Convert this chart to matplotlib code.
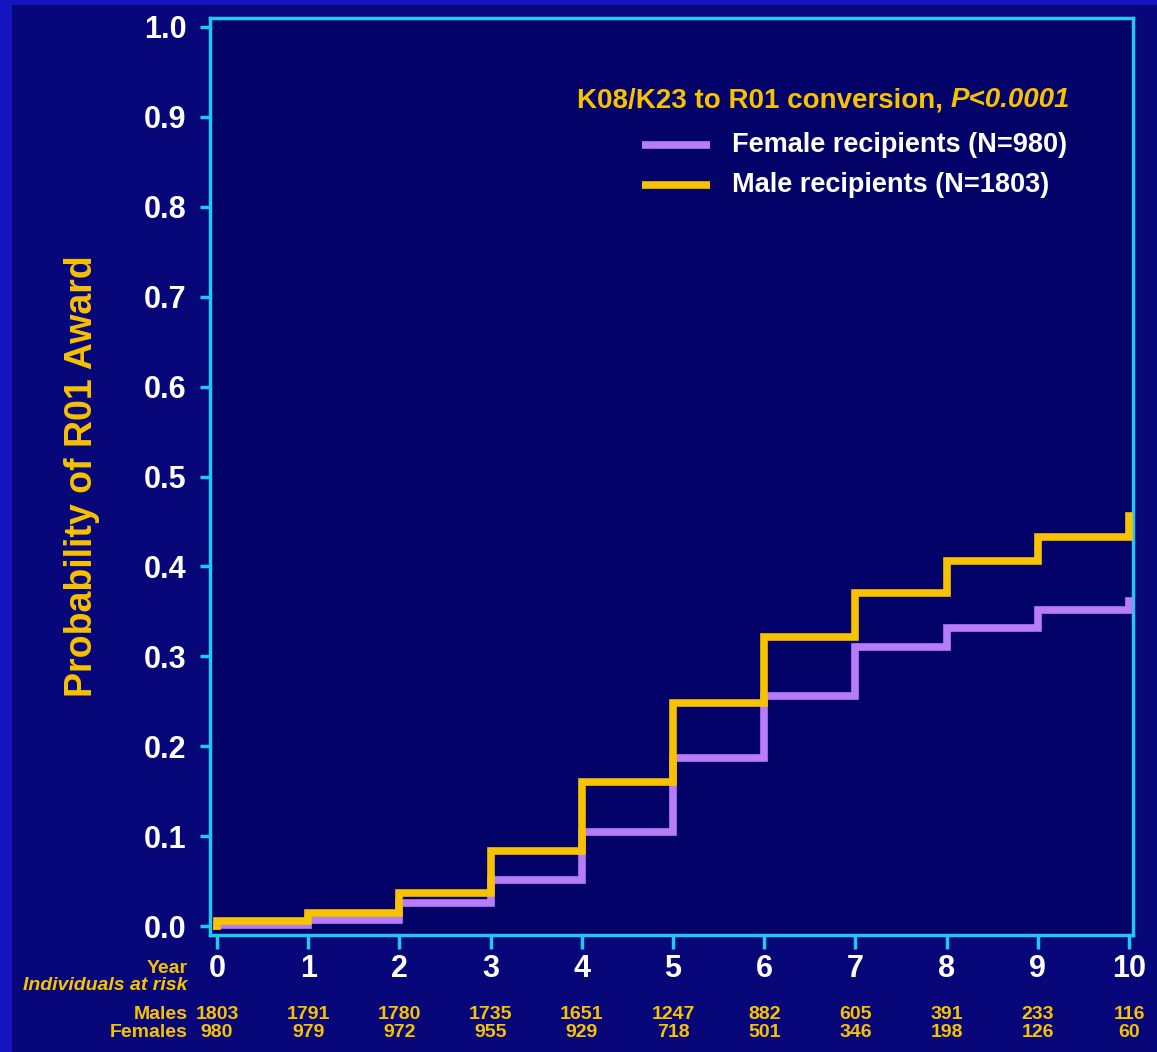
import matplotlib
matplotlib.use("Agg")
import matplotlib.pyplot as plt
import matplotlib.transforms as mtransforms
from matplotlib.patches import Rectangle

# data
years = [0, 1, 2, 3, 4, 5, 6, 7, 8, 9, 10]
male_prob = [0.006, 0.014, 0.037, 0.083, 0.160, 0.248, 0.321, 0.370, 0.406, 0.433, 0.456]
female_prob = [0.001, 0.007, 0.026, 0.051, 0.105, 0.187, 0.256, 0.310, 0.331, 0.351, 0.362]
males_at_risk = [1803, 1791, 1780, 1735, 1651, 1247, 882, 605, 391, 233, 116]
females_at_risk = [980, 979, 972, 955, 929, 718, 501, 346, 198, 126, 60]
yticks = [0.0, 0.1, 0.2, 0.3, 0.4, 0.5, 0.6, 0.7, 0.8, 0.9, 1.0]
series_names = ["Female recipients (N=980)", "Male recipients (N=1803)"]

NAVY = "#020268"
BG = "#07077a"
EDGE = "#1414c0"
CYAN = "#22c8ee"
GOLD = "#f7c200"
PURPLE = "#b77cf7"

plt.rcParams["font.family"] = ["Liberation Sans", "DejaVu Sans"]
plt.rcParams["font.weight"] = "bold"

fig = plt.figure(figsize=(11.57, 10.52), dpi=100)
fig.patch.set_facecolor(EDGE)
fig.patches.append(Rectangle((0.010, 0.0), 0.990, 0.995, transform=fig.transFigure,
                             facecolor=BG, edgecolor="none", zorder=-1))

ax = fig.add_axes([0.1815, 0.1112, 0.7978, 0.8717])
ax.set_facecolor(NAVY)

# step curves (start at 0, jump at each year)
ax.step([0] + years, [0] + female_prob, where="post", color=PURPLE, lw=5.5,
        solid_joinstyle="miter", zorder=3)
ax.step([0] + years, [0] + male_prob, where="post", color=GOLD, lw=5.5,
        solid_joinstyle="miter", zorder=4)

ax.set_xlim(-0.077, 10.044)
ax.set_ylim(-0.010, 1.010)
ax.set_xticks(years)
ax.set_yticks(yticks)
ax.set_yticklabels([f"{v:.1f}" for v in yticks])

for s in ax.spines.values():
    s.set_color(CYAN)
    s.set_linewidth(2.5)
ax.tick_params(axis="both", colors=CYAN, width=2.5, labelcolor="white")
ax.tick_params(axis="y", length=7, pad=10, labelsize=22)
ax.tick_params(axis="x", length=10, pad=4, labelsize=22)

ax.set_ylabel("Probability of R01 Award", color=GOLD, fontsize=27, fontweight="bold")
ax.yaxis.set_label_coords(-0.119, 0.5)

# legend drawn by hand
for y, c, name in zip([0.8615, 0.8179], [PURPLE, GOLD], series_names):
    ax.plot([0.468, 0.5417], [y, y], color=c, lw=5.5, transform=ax.transAxes,
            solid_capstyle="butt")
    ax.text(0.5655, y, name, transform=ax.transAxes, ha="left", va="center",
            color="white", fontsize=19.5)

# legend title with italic P value
pt = ax.text(0.9317, 0.9138, "P<0.0001", transform=ax.transAxes, ha="right",
             va="center_baseline", color=GOLD, fontsize=20, style="italic")
fig.canvas.draw()
bb = pt.get_window_extent()
ax.text(0.9317, 0.9138, "K08/K23 to R01 conversion, ", transform=ax.transAxes,
        ha="right", va="center_baseline", color=GOLD, fontsize=20)
last = ax.texts[-1]
last.set_transform(ax.transAxes + mtransforms.ScaledTranslation(
    -(bb.x1 - bb.x0) / fig.dpi, 0, fig.dpi_scale_trans))

# number at risk table
trans = mtransforms.blended_transform_factory(ax.transData, fig.transFigure)
lab_x = -0.32
ax.text(lab_x, 0.0795, "Year", transform=trans, ha="right", va="center",
        color=GOLD, fontsize=14, clip_on=False)
ax.text(lab_x, 0.0630, "Individuals at risk", transform=trans, ha="right",
        va="center", color=GOLD, fontsize=14, style="italic", clip_on=False)
ax.text(lab_x, 0.0360, "Males", transform=trans, ha="right", va="center",
        color=GOLD, fontsize=14, clip_on=False)
ax.text(lab_x, 0.0188, "Females", transform=trans, ha="right", va="center",
        color=GOLD, fontsize=14, clip_on=False)
for x, m, f in zip(years, males_at_risk, females_at_risk):
    ax.text(x, 0.0360, str(m), transform=trans, ha="center", va="center",
            color=GOLD, fontsize=14, clip_on=False)
    ax.text(x, 0.0188, str(f), transform=trans, ha="center", va="center",
            color=GOLD, fontsize=14, clip_on=False)

fig.savefig("out.png", dpi=100, facecolor=fig.get_facecolor())
